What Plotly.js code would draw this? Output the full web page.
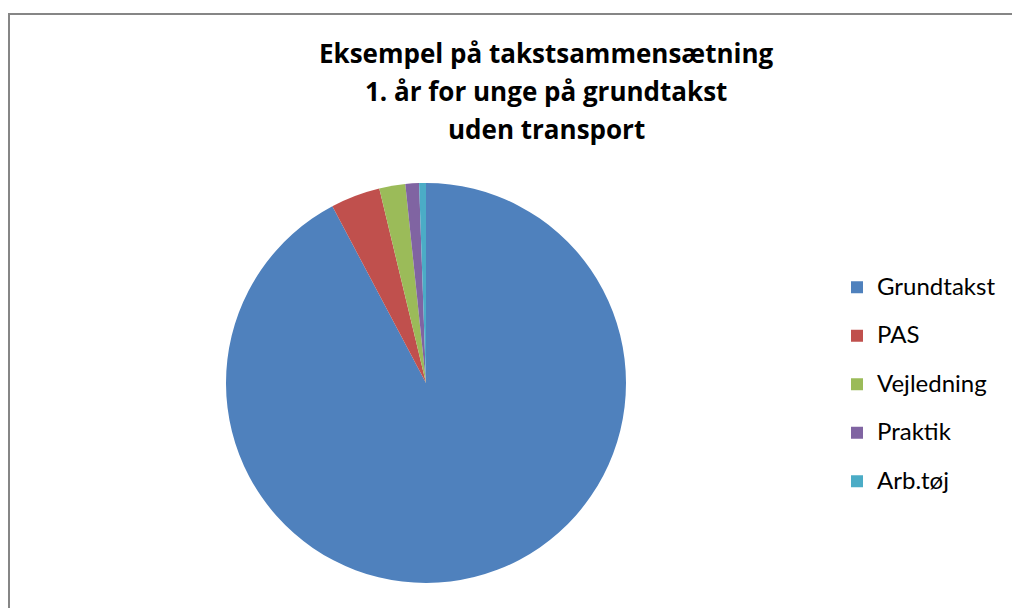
<!DOCTYPE html>
<html>
<head>
<meta charset="utf-8">
<script src="https://cdn.plot.ly/plotly-3.0.1.min.js"></script>
<style>html,body{margin:0;padding:0;background:#fff;}#chart{width:1012px;height:608px;}</style>
</head>
<body>
<div id="chart"></div>
<script>
const categories = ["Grundtakst", "PAS", "Vejledning", "Praktik", "Arb.tøj"];
const shares = [92.2, 4.0, 2.1, 1.1, 0.55];
const colors = ["#4F81BD", "#C0504D", "#9BBB59", "#8064A2", "#4BACC6"];
const titleLines = ["Eksempel på takstsammensætning", "1. år for unge på grundtakst", "uden transport"];

const W = 1012, H = 608;
const titleY = [53, 91, 129];

const trace = {
  type: "pie",
  labels: categories.map(c => '<span style="font-size:24px;baseline-shift:6px">' + c + '</span>'),
  values: shares,
  sort: false,
  direction: "clockwise",
  rotation: 0,
  textinfo: "none",
  hoverinfo: "label+percent",
  marker: {colors: colors, line: {width: 0}},
  domain: {x: [226 / W, 626 / W], y: [25 / H, 425 / H]}
};

const annotations = titleLines.map((t, i) => ({
  text: "<b>" + t + "</b>",
  xref: "paper", yref: "paper",
  x: 546 / W, y: 1 - titleY[i] / H,
  xanchor: "center", yanchor: "middle",
  showarrow: false,
  font: {family: "Open Sans, sans-serif", size: 26, color: "#000"}
}));

const layout = {
  width: W, height: H,
  margin: {l: 0, r: 0, t: 0, b: 0},
  paper_bgcolor: "#fff",
  showlegend: true,
  legend: {
    x: 837 / W, xanchor: "left",
    y: 1 - 258 / H, yanchor: "top",
    font: {family: "Lato, sans-serif", size: 35, color: "#000"},
    bgcolor: "rgba(0,0,0,0)"
  },
  annotations: annotations,
  shapes: [{
    type: "rect", xref: "paper", yref: "paper",
    x0: 9 / W, x1: 1.05, y0: -0.05, y1: 1 - 14 / H,
    line: {color: "#868686", width: 2}
  }]
};

Plotly.newPlot("chart", [trace], layout, {displayModeBar: false, staticPlot: true});
</script>
</body>
</html>
